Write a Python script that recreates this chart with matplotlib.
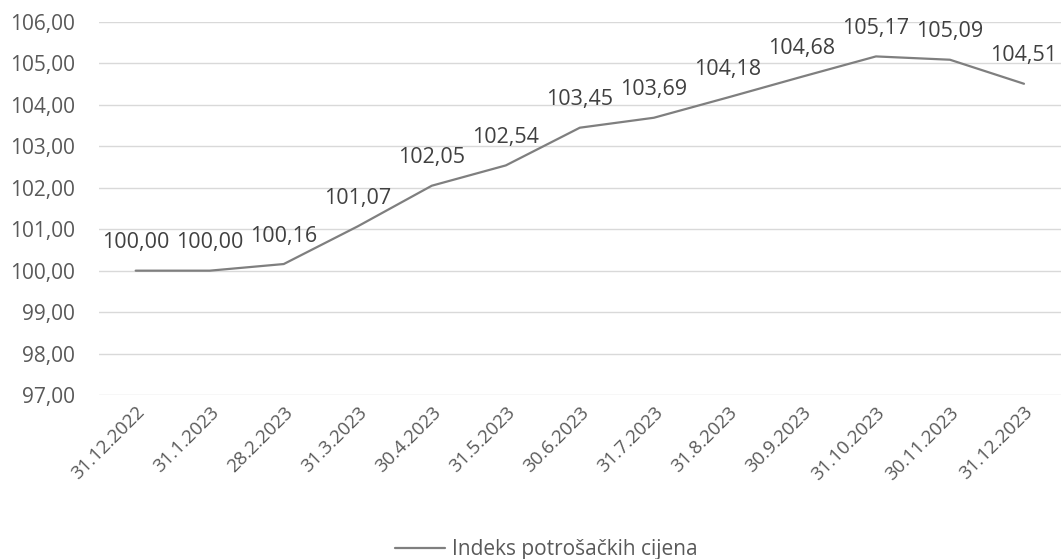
import matplotlib
matplotlib.use("Agg")
import matplotlib.pyplot as plt

dates = ["31.12.2022", "31.1.2023", "28.2.2023", "31.3.2023", "30.4.2023",
         "31.5.2023", "30.6.2023", "31.7.2023", "31.8.2023", "30.9.2023",
         "31.10.2023", "30.11.2023", "31.12.2023"]
index_values = [100.00, 100.00, 100.16, 101.07, 102.05, 102.54, 103.45,
                103.69, 104.18, 104.68, 105.17, 105.09, 104.51]
y_ticks = [97, 98, 99, 100, 101, 102, 103, 104, 105, 106]
series_name = "Indeks potrošačkih cijena"

plt.rcParams["font.family"] = ["Open Sans", "DejaVu Sans"]

fig = plt.figure(figsize=(10.61, 5.59), dpi=100)
ax = fig.add_axes([0.093, 0.2934, 0.907, 0.6672])

xs = list(range(len(dates)))
line, = ax.plot(xs, index_values, color="#7f7f7f", linewidth=1.6,
                solid_capstyle="round", zorder=3, label=series_name)

for x, v in zip(xs, index_values):
    ax.annotate(f"{v:.2f}".replace(".", ","), (x, v), xytext=(0, 20),
                textcoords="offset points", ha="center", va="center",
                fontsize=15.5, color="#404040", zorder=4)

ax.set_ylim(97, 106)
ax.set_xlim(-0.5, len(dates) - 0.5)
ax.set_yticks(y_ticks)
ax.set_yticklabels([f"{t:.2f}".replace(".", ",") for t in y_ticks],
                   fontsize=15, color="#595959")
ax.set_xticks(xs)
ax.set_xticklabels(dates, rotation=45, ha="right", rotation_mode="anchor",
                   fontsize=13.5, color="#595959")
ax.tick_params(axis="both", length=0)
ax.tick_params(axis="y", pad=17)
ax.tick_params(axis="x", pad=6)

ax.grid(axis="y", color="#d9d9d9", linewidth=1.0)
ax.grid(axis="x", visible=False)
ax.set_axisbelow(True)
for side in ["top", "right", "left", "bottom"]:
    ax.spines[side].set_visible(False)

fig.legend(handles=[line], loc="center", bbox_to_anchor=(0.515, 0.017),
           frameon=False, fontsize=15, labelcolor="#595959",
           handlelength=2.4, handletextpad=0.3, borderpad=0)

fig.savefig("out.png", dpi=100, facecolor="white")
